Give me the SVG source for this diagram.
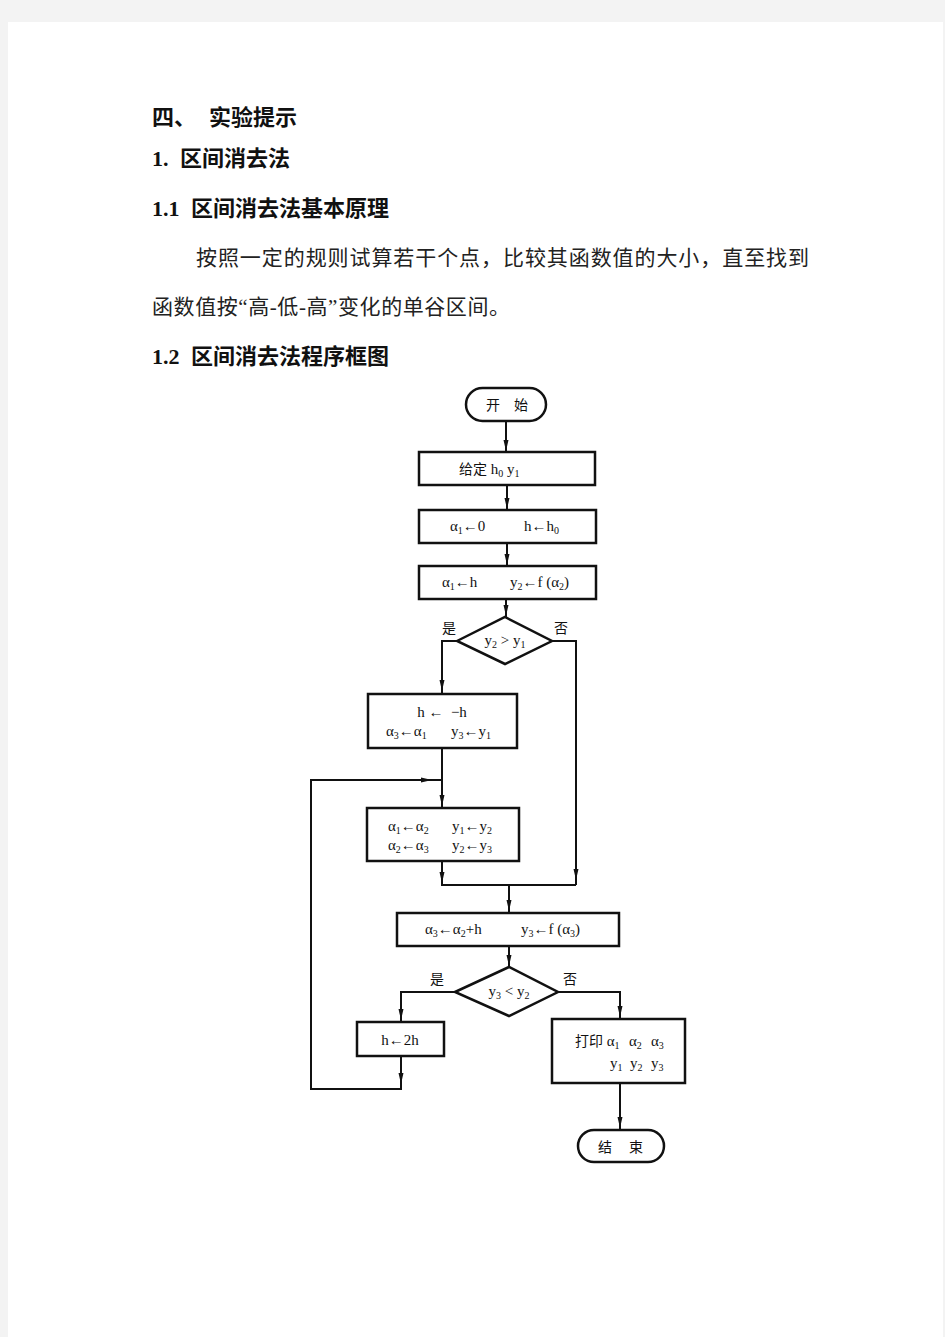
<svg xmlns="http://www.w3.org/2000/svg" xmlns:xlink="http://www.w3.org/1999/xlink" width="945" height="1337" viewBox="0 0 945 1337">
<style>
.h{font-family:"Liberation Serif","Noto Sans CJK SC",serif;font-size:22px;font-weight:bold;fill:#111}
.p{font-family:"Liberation Serif","Noto Sans CJK SC",serif;font-size:21px;fill:#222}
.t{font-family:"Liberation Serif","Noto Sans CJK SC",serif;font-size:15px;fill:#111;white-space:pre}
.c{font-family:"Noto Sans CJK SC",sans-serif;font-size:14px;fill:#111;white-space:pre}
.s{font-size:10px}
.b{fill:#fff;stroke:#111;stroke-width:2.5}
.l{fill:none;stroke:#111;stroke-width:2}
</style>
<defs>
<path id="ad" d="M-2.5,-11 L2.5,-11 L0,0 Z" fill="#111"/>
</defs>
<rect x="0" y="0" width="945" height="1337" fill="#f3f3f3"/>
<rect x="8" y="22" width="935" height="1315" fill="#fff"/>
<g id="heading">
<text class="h" x="152" y="125">四、<tspan x="209">实验提示</tspan></text>
<text class="h" x="152" y="166">1.<tspan x="180">区间消去法</tspan></text>
<text class="h" x="152" y="216">1.1<tspan x="191">区间消去法基本原理</tspan></text>
<text class="p" x="196" y="265" textLength="613">按照一定的规则试算若干个点，比较其函数值的大小，直至找到</text>
<text class="p" x="152" y="314" textLength="358">函数值按“高-低-高”变化的单谷区间。</text>
<text class="h" x="152" y="364">1.2<tspan x="191">区间消去法程序框图</tspan></text>
</g>
<g id="connectors">
<line class="l" x1="506" y1="421" x2="506" y2="452"/>
<line class="l" x1="507" y1="485" x2="507" y2="510"/>
<line class="l" x1="507" y1="543" x2="507" y2="566"/>
<line class="l" x1="506" y1="599" x2="506" y2="617"/>
<polyline class="l" points="457,641 442,641 442,694"/>
<polyline class="l" points="552,641 576,641 576,885"/>
<line class="l" x1="442" y1="748" x2="442" y2="808"/>
<polyline class="l" points="442,861 442,885 576,885"/>
<line class="l" x1="509" y1="885" x2="509" y2="913"/>
<line class="l" x1="509" y1="946" x2="509" y2="967"/>
<polyline class="l" points="455,992 401,992 401,1022"/>
<polyline class="l" points="558,992 620,992 620,1019"/>
<polyline class="l" points="401,1056 401,1089 311,1089 311,780 442,780"/>
<line class="l" x1="620" y1="1083" x2="620" y2="1130"/>
<use xlink:href="#ad" x="506" y="451"/>
<use xlink:href="#ad" x="507" y="509"/>
<use xlink:href="#ad" x="507" y="565"/>
<use xlink:href="#ad" x="506" y="616"/>
<use xlink:href="#ad" x="442" y="691"/>
<use xlink:href="#ad" x="442" y="806"/>
<use xlink:href="#ad" transform="translate(432,780) rotate(-90)"/>
<use xlink:href="#ad" x="442" y="883"/>
<use xlink:href="#ad" x="576" y="880"/>
<use xlink:href="#ad" x="509" y="911"/>
<use xlink:href="#ad" x="509" y="966"/>
<use xlink:href="#ad" x="401" y="1020"/>
<use xlink:href="#ad" x="401" y="1084"/>
<use xlink:href="#ad" x="620" y="1017"/>
<use xlink:href="#ad" x="620" y="1128"/>
</g>
<g id="start">
<rect class="b" x="466" y="388" width="80" height="33" rx="16.5"/>
<text class="c" x="486" y="410">开<tspan x="514">始</tspan></text>
</g>
<g id="init">
<rect class="b" x="419" y="452" width="176" height="33"/>
<text class="t" x="459" y="474"><tspan class="c">给定</tspan> h<tspan class="s" dy="3">0</tspan><tspan dy="-3"> y</tspan><tspan class="s" dy="3">1</tspan></text>
</g>
<g id="set1">
<rect class="b" x="419" y="510" width="177" height="33"/>
<text class="t" x="450" y="531">α<tspan class="s" dy="3">1</tspan><tspan dy="-3">←0</tspan></text>
<text class="t" x="524" y="531">h←h<tspan class="s" dy="3">0</tspan></text>
</g>
<g id="set2">
<rect class="b" x="419" y="566" width="177" height="33"/>
<text class="t" x="442" y="587">α<tspan class="s" dy="3">1</tspan><tspan dy="-3">←h</tspan></text>
<text class="t" x="510" y="587">y<tspan class="s" dy="3">2</tspan><tspan dy="-3">←f (α</tspan><tspan class="s" dy="3">2</tspan><tspan dy="-3">)</tspan></text>
</g>
<g id="cond1">
<polygon class="b" points="457,641 505,617 552,641 505,664"/>
<text class="t" x="505" y="645" text-anchor="middle">y<tspan class="s" dy="3">2</tspan><tspan dy="-3"> &gt; y</tspan><tspan class="s" dy="3">1</tspan></text>
<text class="c" x="449" y="633" text-anchor="middle">是</text>
<text class="c" x="561" y="633" text-anchor="middle">否</text>
</g>
<g id="reverse">
<rect class="b" x="368" y="694" width="149" height="54"/>
<text class="t" x="442" y="717" text-anchor="middle">h ←  −h</text>
<text class="t" x="386" y="736">α<tspan class="s" dy="3">3</tspan><tspan dy="-3">←α</tspan><tspan class="s" dy="3">1</tspan><tspan x="451" dy="-3">y</tspan><tspan class="s" dy="3">3</tspan><tspan dy="-3">←y</tspan><tspan class="s" dy="3">1</tspan></text>
</g>
<g id="shift">
<rect class="b" x="367" y="808" width="152" height="53"/>
<text class="t" x="388" y="831">α<tspan class="s" dy="3">1</tspan><tspan dy="-3">←α</tspan><tspan class="s" dy="3">2</tspan><tspan x="452" dy="-3">y</tspan><tspan class="s" dy="3">1</tspan><tspan dy="-3">←y</tspan><tspan class="s" dy="3">2</tspan></text>
<text class="t" x="388" y="850">α<tspan class="s" dy="3">2</tspan><tspan dy="-3">←α</tspan><tspan class="s" dy="3">3</tspan><tspan x="452" dy="-3">y</tspan><tspan class="s" dy="3">2</tspan><tspan dy="-3">←y</tspan><tspan class="s" dy="3">3</tspan></text>
</g>
<g id="step">
<rect class="b" x="397" y="913" width="222" height="33"/>
<text class="t" x="425" y="934">α<tspan class="s" dy="3">3</tspan><tspan dy="-3">←α</tspan><tspan class="s" dy="3">2</tspan><tspan dy="-3">+h</tspan></text>
<text class="t" x="521" y="934">y<tspan class="s" dy="3">3</tspan><tspan dy="-3">←f (α</tspan><tspan class="s" dy="3">3</tspan><tspan dy="-3">)</tspan></text>
</g>
<g id="cond2">
<polygon class="b" points="455,992 509,967 558,992 509,1016"/>
<text class="t" x="509" y="996" text-anchor="middle">y<tspan class="s" dy="3">3</tspan><tspan dy="-3"> &lt; y</tspan><tspan class="s" dy="3">2</tspan></text>
<text class="c" x="437" y="984" text-anchor="middle">是</text>
<text class="c" x="570" y="984" text-anchor="middle">否</text>
</g>
<g id="double">
<rect class="b" x="357" y="1022" width="87" height="34"/>
<text class="t" x="400" y="1045" text-anchor="middle">h←2h</text>
</g>
<g id="print">
<rect class="b" x="552" y="1019" width="133" height="64"/>
<text class="t" x="575" y="1046"><tspan class="c">打印</tspan> α<tspan class="s" dy="3">1</tspan><tspan x="629" dy="-3">α</tspan><tspan class="s" dy="3">2</tspan><tspan x="651" dy="-3">α</tspan><tspan class="s" dy="3">3</tspan></text>
<text class="t" x="610" y="1068">y<tspan class="s" dy="3">1</tspan><tspan x="630" dy="-3">y</tspan><tspan class="s" dy="3">2</tspan><tspan x="651" dy="-3">y</tspan><tspan class="s" dy="3">3</tspan></text>
</g>
<g id="end">
<rect class="b" x="578" y="1130" width="86" height="32" rx="16"/>
<text class="c" x="598" y="1152">结<tspan x="629">束</tspan></text>
</g>
</svg>
